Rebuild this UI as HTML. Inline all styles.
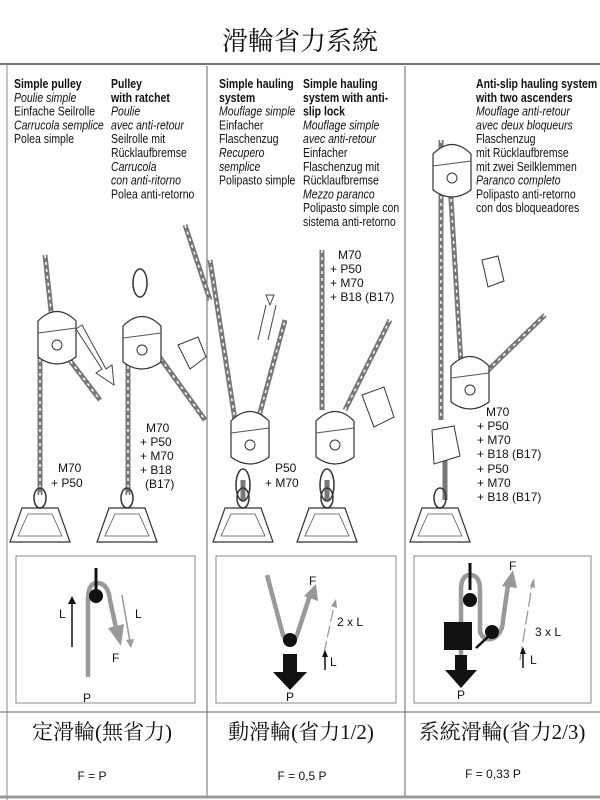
<!DOCTYPE html>
<html><head><meta charset="utf-8"><style>
html,body{margin:0;padding:0;background:#fff;}
svg{display:block;}
.t{font-family:"Liberation Sans",sans-serif;font-size:12.5px;fill:#111;}
.b{font-weight:bold;}
.i{font-style:italic;}
.cj{font-family:"Liberation Serif","Noto Serif CJK SC","Noto Sans CJK TC",serif;fill:#111;}
.lab{font-family:"Liberation Sans",sans-serif;font-size:12px;fill:#111;}
</style></head><body>
<svg width="600" height="800" viewBox="0 0 600 800" xmlns="http://www.w3.org/2000/svg">
<rect width="600" height="800" fill="#fff"/>
<text x="300" y="50" text-anchor="middle" class="cj" font-size="26">滑輪省力系統</text>
<line x1="0" y1="64" x2="600" y2="64" stroke="#777" stroke-width="2"/>
<line x1="7" y1="64" x2="7" y2="800" stroke="#888" stroke-width="1"/>
<line x1="207" y1="66" x2="207" y2="797" stroke="#666" stroke-width="1"/>
<line x1="405" y1="66" x2="405" y2="797" stroke="#666" stroke-width="1"/>
<line x1="0" y1="712" x2="600" y2="712" stroke="#666" stroke-width="1"/>
<line x1="0" y1="797" x2="600" y2="797" stroke="#999" stroke-width="3"/>

<g transform="translate(14,0) scale(0.84,1)">
<text class="t" y="88"><tspan class="b" x="0">Simple pulley</tspan><tspan class="i" x="0" dy="13.8">Poulie simple</tspan><tspan x="0" dy="13.8">Einfache Seilrolle</tspan><tspan class="i" x="0" dy="13.8">Carrucola semplice</tspan><tspan x="0" dy="13.8">Polea simple</tspan></text>
</g>
<g transform="translate(111,0) scale(0.84,1)">
<text class="t" y="88"><tspan class="b" x="0">Pulley</tspan><tspan class="b" x="0" dy="13.8">with ratchet</tspan><tspan class="i" x="0" dy="13.8">Poulie</tspan><tspan class="i" x="0" dy="13.8">avec anti-retour</tspan><tspan x="0" dy="13.8">Seilrolle mit</tspan><tspan x="0" dy="13.8">Rücklaufbremse</tspan><tspan class="i" x="0" dy="13.8">Carrucola</tspan><tspan class="i" x="0" dy="13.8">con anti-ritorno</tspan><tspan x="0" dy="13.8">Polea anti-retorno</tspan></text>
</g>
<g transform="translate(219,0) scale(0.84,1)">
<text class="t" y="88"><tspan class="b" x="0">Simple hauling</tspan><tspan class="b" x="0" dy="13.8">system</tspan><tspan class="i" x="0" dy="13.8">Mouflage simple</tspan><tspan x="0" dy="13.8">Einfacher</tspan><tspan x="0" dy="13.8">Flaschenzug</tspan><tspan class="i" x="0" dy="13.8">Recupero</tspan><tspan class="i" x="0" dy="13.8">semplice</tspan><tspan x="0" dy="13.8">Polipasto simple</tspan></text>
</g>
<g transform="translate(303,0) scale(0.84,1)">
<text class="t" y="88"><tspan class="b" x="0">Simple hauling</tspan><tspan class="b" x="0" dy="13.8">system with anti-</tspan><tspan class="b" x="0" dy="13.8">slip lock</tspan><tspan class="i" x="0" dy="13.8">Mouflage simple</tspan><tspan class="i" x="0" dy="13.8">avec anti-retour</tspan><tspan x="0" dy="13.8">Einfacher</tspan><tspan x="0" dy="13.8">Flaschenzug mit</tspan><tspan x="0" dy="13.8">Rücklaufbremse</tspan><tspan class="i" x="0" dy="13.8">Mezzo paranco</tspan><tspan x="0" dy="13.8">Polipasto simple con</tspan><tspan x="0" dy="13.8">sistema anti-retorno</tspan></text>
</g>
<g transform="translate(476,0) scale(0.84,1)">
<text class="t" y="88"><tspan class="b" x="0">Anti-slip hauling system</tspan><tspan class="b" x="0" dy="13.8">with two ascenders</tspan><tspan class="i" x="0" dy="13.8">Mouflage anti-retour</tspan><tspan class="i" x="0" dy="13.8">avec deux bloqueurs</tspan><tspan x="0" dy="13.8">Flaschenzug</tspan><tspan x="0" dy="13.8">mit Rücklaufbremse</tspan><tspan x="0" dy="13.8">mit zwei Seilklemmen</tspan><tspan class="i" x="0" dy="13.8">Paranco completo</tspan><tspan x="0" dy="13.8">Polipasto anti-retorno</tspan><tspan x="0" dy="13.8">con dos bloqueadores</tspan></text>
</g>

<defs>
<g id="wt">
<path d="M-18,0 L18,0 L30,34 L-30,34 Z" fill="#fff" stroke="#333" stroke-width="1.2"/>
<path d="M-12,6 L12,6 L22,28 L-22,28 Z" fill="none" stroke="#555" stroke-width="0.8"/>
<ellipse cx="0" cy="-10" rx="6" ry="10" fill="none" stroke="#333" stroke-width="1.5"/>
</g>
<g id="pul">
<path d="M-19,-24 Q0,-43 19,-24 L19,12 Q0,26 -19,12 Z" fill="#fff" stroke="#333" stroke-width="1.2"/>
<circle r="5" fill="none" stroke="#333"/>
<line x1="-19" y1="-12" x2="19" y2="-17" stroke="#555"/>
</g>
</defs>
<g fill="none" stroke="#777" stroke-width="5">
<path d="M40,495 L40,330"/><path d="M45,255 L52,320"/><path d="M62,350 L100,400"/>
<path d="M128,495 L128,330"/><path d="M140,330 L205,420"/><path d="M185,225 L210,300"/>
<path d="M210,260 L235,420"/><path d="M258,420 L285,320"/><path d="M243,480 L243,500"/>
<path d="M322,250 L322,410"/><path d="M345,410 L390,320"/><path d="M327,480 L327,500"/>
<path d="M441,140 L441,420"/><path d="M448,150 L462,380"/><path d="M478,380 L545,315"/><path d="M445,460 L445,500"/>
</g>
<g stroke="#fff" stroke-width="1.5" fill="none" stroke-dasharray="3,4">
<path d="M40,495 L40,330"/><path d="M45,255 L52,320"/><path d="M62,350 L100,400"/>
<path d="M128,495 L128,330"/><path d="M140,330 L205,420"/><path d="M185,225 L210,300"/>
<path d="M210,260 L235,420"/><path d="M258,420 L285,320"/>
<path d="M322,250 L322,410"/><path d="M345,410 L390,320"/>
<path d="M441,140 L441,420"/><path d="M448,150 L462,380"/><path d="M478,380 L545,315"/>
</g>
<use href="#pul" x="57" y="345"/><use href="#pul" x="142" y="350"/>
<use href="#pul" x="250" y="445"/><use href="#pul" x="335" y="445"/>
<use href="#pul" x="452" y="178"/><use href="#pul" x="470" y="390"/>
<ellipse cx="140" cy="283" rx="7" ry="14" fill="none" stroke="#333" stroke-width="1.5"/>
<path d="M178,345 l20,-8 l8,20 l-16,12 z M362,395 l22,-8 l10,30 l-20,10z M432,430 l22,-4 l6,30 l-26,8z M482,260 l16,-4 l6,25 l-16,6z" fill="#fff" stroke="#333"/>
<ellipse cx="243" cy="485" rx="7" ry="16" fill="none" stroke="#333" stroke-width="1.5"/>
<ellipse cx="327" cy="485" rx="7" ry="16" fill="none" stroke="#333" stroke-width="1.5"/>
<path d="M82,325 l-6,4 l26,40 l-6,4 l18,12 l-2,-20 l-6,4 z M270,305 l4,-10 l-8,0z" fill="#fff" stroke="#444"/>
<path d="M258,340 l8,-35 M268,340 l8,-35" stroke="#444"/>
<use href="#wt" x="40" y="508"/><use href="#wt" x="127" y="508"/>
<use href="#wt" x="243" y="508"/><use href="#wt" x="327" y="508"/>
<use href="#wt" x="440" y="508"/>
<g class="lab">
<text x="58" y="472">M70</text><text x="51" y="487">+ P50</text>
<text x="146" y="432">M70</text><text x="140" y="446">+ P50</text><text x="140" y="460">+ M70</text><text x="140" y="474">+ B18</text><text x="145" y="488">(B17)</text>
<text x="275" y="472">P50</text><text x="265" y="487">+ M70</text>
<text x="338" y="259">M70</text><text x="330" y="273">+ P50</text><text x="330" y="287">+ M70</text><text x="330" y="301">+ B18 (B17)</text>
<text x="486" y="416">M70</text><text x="477" y="430">+ P50</text><text x="477" y="444">+ M70</text><text x="477" y="458">+ B18 (B17)</text><text x="477" y="473">+ P50</text><text x="477" y="487">+ M70</text><text x="477" y="501">+ B18 (B17)</text>
</g>

<rect x="16" y="556" width="179" height="147" fill="#fff" stroke="#888" stroke-width="1"/>
<rect x="216" y="556" width="180" height="147" fill="#fff" stroke="#888" stroke-width="1"/>
<rect x="414" y="556" width="177" height="147" fill="#fff" stroke="#888" stroke-width="1"/>

<path d="M88,677 L88,600 Q88,583 97,583 Q108,583 110,600 L116,628" fill="none" stroke="#999" stroke-width="4.5"/>
<path d="M108,628 L121,646 L124,624 Z" fill="#999"/>
<line x1="96" y1="568" x2="96" y2="592" stroke="#111" stroke-width="3"/>
<circle cx="96" cy="596" r="7" fill="#111"/>
<line x1="72" y1="647" x2="72" y2="602" stroke="#111" stroke-width="1.5"/><path d="M68,604 L72,596 L76,604Z" fill="#111"/>
<line x1="122" y1="595" x2="130" y2="642" stroke="#999" stroke-width="1.5"/><path d="M126,640 L131,648 L134,639Z" fill="#999"/>
<g class="lab" font-size="12"><text x="59" y="618">L</text><text x="135" y="618">L</text><text x="112" y="662">F</text><text x="83" y="702">P</text></g>

<path d="M267,575 L283,635 Q290,650 297,635 L310,595" fill="none" stroke="#999" stroke-width="4.5"/>
<path d="M304,596 L316,584 L318,601Z" fill="#999"/>
<circle cx="290" cy="640" r="7" fill="#111"/>
<rect x="283" y="654" width="14" height="20" fill="#111"/><path d="M273,672 L307,672 L290,690Z" fill="#111"/>
<line x1="324" y1="653" x2="334" y2="606" stroke="#999" stroke-width="1.3" stroke-dasharray="12,4"/><path d="M331,606 L336,599 L337,608Z" fill="#999"/>
<line x1="325" y1="670" x2="325" y2="655" stroke="#111" stroke-width="1.5"/><path d="M322,657 L325,650 L328,657Z" fill="#111"/>
<g class="lab"><text x="309" y="585">F</text><text x="337" y="626">2 x L</text><text x="330" y="666">L</text><text x="286" y="701">P</text></g>

<path d="M461,655 L461,590 Q461,575 470,575 Q480,575 480,590 L480,632 Q484,642 494,638 Q503,632 503,620 L508,585" fill="none" stroke="#999" stroke-width="4.5"/>
<path d="M502,586 L513,570 L517,588Z" fill="#999"/>
<line x1="470" y1="563" x2="470" y2="590" stroke="#111" stroke-width="3"/>
<circle cx="470" cy="600" r="7" fill="#111"/>
<circle cx="492" cy="632" r="7" fill="#111"/>
<line x1="476" y1="648" x2="490" y2="635" stroke="#111" stroke-width="2.5"/>
<rect x="444" y="622" width="28" height="28" fill="#111"/>
<rect x="455" y="655" width="12" height="20" fill="#111"/><path d="M445,670 L477,670 L461,688Z" fill="#111"/>
<line x1="520" y1="660" x2="532" y2="585" stroke="#999" stroke-width="1.3" stroke-dasharray="14,4"/><path d="M530,586 L534,578 L535,588Z" fill="#999"/>
<line x1="523" y1="668" x2="523" y2="652" stroke="#111" stroke-width="1.5"/><path d="M520,654 L523,647 L526,654Z" fill="#111"/>
<g class="lab"><text x="509" y="570">F</text><text x="535" y="636">3 x L</text><text x="530" y="664">L</text><text x="457" y="699">P</text></g>

<text x="102" y="739" text-anchor="middle" class="cj" font-size="21">定滑輪(無省力)</text>
<text x="301" y="739" text-anchor="middle" class="cj" font-size="21">動滑輪(省力1/2)</text>
<text x="502" y="739" text-anchor="middle" class="cj" font-size="21">系統滑輪(省力2/3)</text>
<g class="lab" font-size="14" text-anchor="middle">
<text x="92" y="780">F = P</text><text x="302" y="780">F = 0,5 P</text><text x="493" y="778">F = 0,33 P</text>
</g>
</svg>
</body></html>
